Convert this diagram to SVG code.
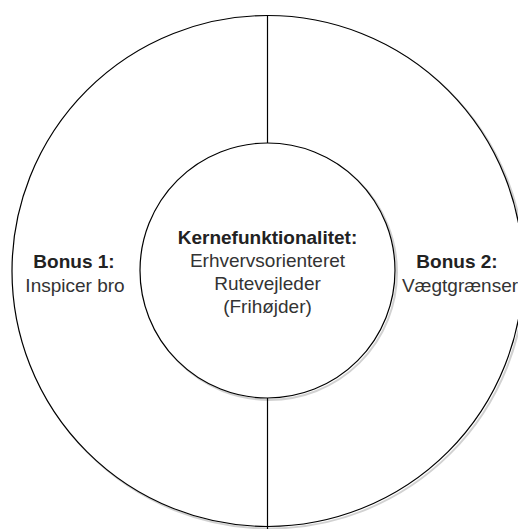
<svg xmlns="http://www.w3.org/2000/svg" width="518" height="529" viewBox="0 0 518 529">
  <style>
    .shape { fill: #ffffff; stroke: #000000; stroke-width: 1.2; }
    .shadow { fill: none; stroke: #000000; stroke-opacity: 0.18; stroke-width: 2; }
    .line { stroke: #000000; stroke-width: 1.2; fill: none; }
    text { font-family: "Liberation Sans", Arial, sans-serif; font-size: 19px; fill: #333333; text-anchor: middle; }
    .b { font-weight: bold; fill: #222222; }
  </style>
  <rect width="518" height="529" fill="#ffffff"/>
  <g id="outer">
    <circle class="shadow" cx="269.5" cy="273" r="255.5"/>
    <circle class="shape" cx="267.5" cy="271" r="255.5"/>
  </g>
  <g id="connectors">
    <line class="line" x1="267.5" y1="15.5" x2="267.5" y2="143"/>
    <line class="line" x1="267.5" y1="398" x2="267.5" y2="529"/>
  </g>
  <g id="bonus1">
    <text class="b" x="74" y="268">Bonus 1:</text>
    <text x="75" y="292">Inspicer bro</text>
  </g>
  <g id="bonus2">
    <text class="b" x="457" y="268">Bonus 2:</text>
    <text x="460" y="292">Vægtgrænser</text>
  </g>
  <g id="core">
    <circle class="shadow" cx="269.5" cy="272.5" r="127.5"/>
    <circle class="shape" cx="267.5" cy="270.5" r="127.5"/>
    <text class="b" x="267.5" y="244">Kernefunktionalitet:</text>
    <text x="267.5" y="267">Erhvervsorienteret</text>
    <text x="267.5" y="290">Rutevejleder</text>
    <text x="267.5" y="313">(Frihøjder)</text>
  </g>
</svg>
